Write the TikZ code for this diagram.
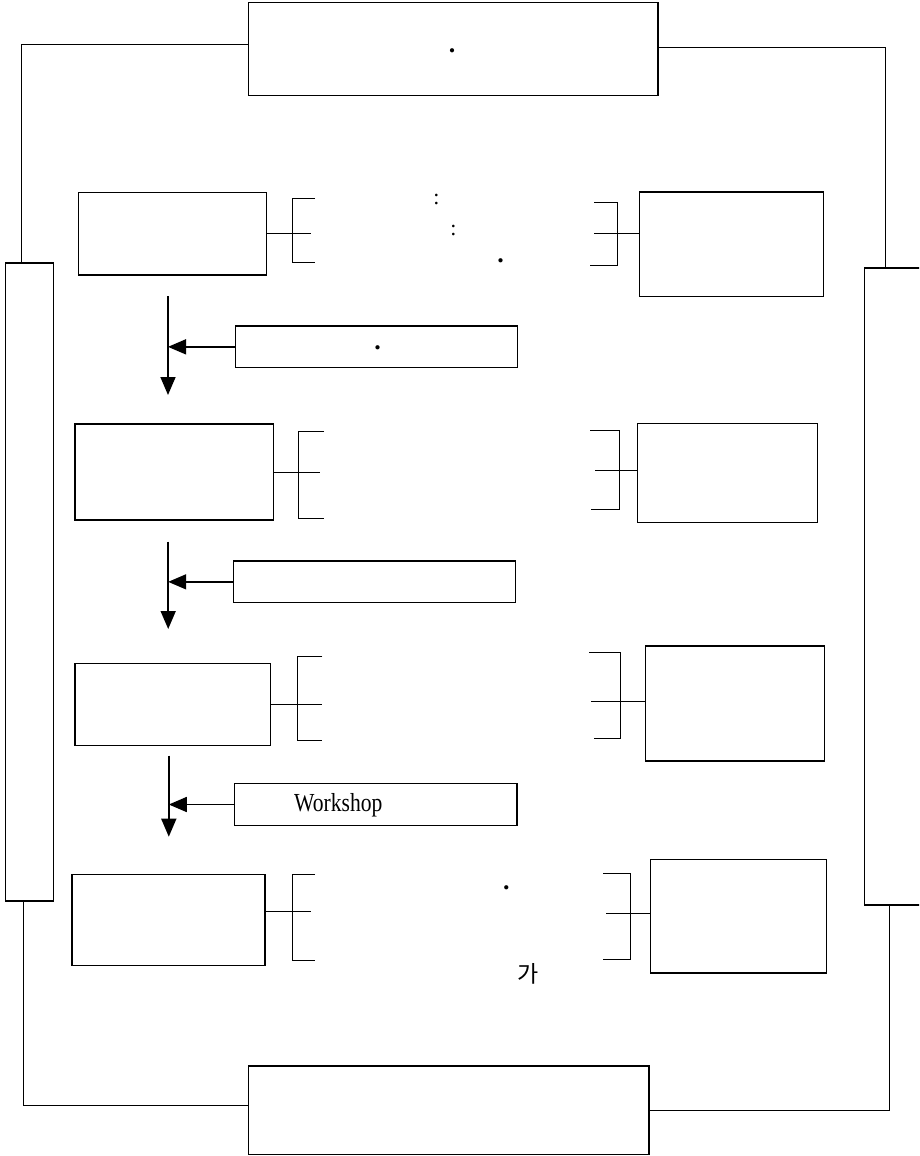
\documentclass[tikz,border=0pt]{standalone}
\usepackage{fontspec}
\setmainfont{Liberation Serif}
\newfontfamily\kofont{Noto Sans CJK KR}
\usetikzlibrary{arrows.meta,positioning,calc}

\begin{document}
\begin{tikzpicture}[x=1pt,y=-1pt,
  blk/.style={draw, line width=1.2pt, inner sep=0pt},
  brk/.style={line width=0.9pt},
  link/.style={line width=0.9pt},
  flow/.style={line width=1.6pt, -{Triangle[length=18pt,width=15pt]}},
  punct/.style={inner sep=0pt, font=\fontsize{22}{24}\selectfont},
  stop/.style={inner sep=0pt, font=\fontsize{26}{28}\selectfont\bfseries}]
  \clip (0,0) rectangle (919,1156);

  % outer frame
  \node[blk, minimum width=409.5pt, minimum height=93.2pt] (plan) at (453.25,49.1) {};
  \node[blk, minimum width=400.5pt, minimum height=88.5pt] (review) at (448.75,1110.25) {};
  \node[blk, minimum width=48pt, minimum height=638pt] (leftbar) at (29.3,582) {};
  \node[blk, minimum width=85.5pt, minimum height=637pt] (rightbar) at (907.25,586.5) {};

  \draw[link] ([yshift=4.8pt]plan.west) -| ([xshift=-7.6pt]leftbar.north);
  \draw[link] ([yshift=1.4pt]plan.east) -| ([xshift=-22.25pt]rightbar.north);
  \draw[link] ([xshift=-5.9pt]leftbar.south) |- ([yshift=5pt]review.west);
  \draw[link] (review.east) -| ([xshift=-17.45pt]rightbar.south);

  % stages
  \node[blk, minimum width=188pt, minimum height=82.5pt] (l1) at (172.5,233.75) {};
  \node[blk, minimum width=184pt, minimum height=104.7pt] (r1) at (731.5,244.35) {};
  \node[blk, minimum width=198.5pt, minimum height=96pt] (l2) at (174.25,472) {};
  \node[blk, minimum width=180pt, minimum height=99.2pt] (r2) at (727.7,472.9) {};
  \node[blk, minimum width=195.8pt, minimum height=82pt] (l3) at (172.9,704.3) {};
  \node[blk, minimum width=179.3pt, minimum height=115pt] (r3) at (735,703.5) {};
  \node[blk, minimum width=193pt, minimum height=90.6pt] (l4) at (168.5,920) {};
  \node[blk, minimum width=175.9pt, minimum height=113.7pt] (r4) at (738.5,916.2) {};

  % inputs
  \node[blk, minimum width=282.2pt, minimum height=41.7pt] (m1) at (376.6,346.85) {};
  \node[blk, minimum width=282pt, minimum height=41.7pt] (m2) at (374.3,581.85) {};
  \node[blk, minimum width=282.6pt, minimum height=42pt] (m3) at (375.7,804.5) {};

  % brackets
  \draw[brk] (l1.east) -- ++(43.5,0);
  \draw[brk] (315,198.3) -- (292.3,198.3) -- (292.3,262.3) -- (315,262.3);
  \draw[brk] (594,233.7) -- (r1.west |- 594,233.7);
  \draw[brk] (594,202) -- (617.3,202) -- (617.3,265.3) -- (590,265.3);

  \draw[brk] (l2.east) -- ++(45.5,0);
  \draw[brk] (324,431.7) -- (298.4,431.7) -- (298.4,518.3) -- (324,518.3);
  \draw[brk] (595,470) -- (r2.west |- 595,470);
  \draw[brk] (590,430.5) -- (619.7,430.5) -- (619.7,509.3) -- (591,509.3);

  \draw[brk] (l3.east) -- ++(51,0);
  \draw[brk] (322.4,656) -- (297.8,656) -- (297.8,740.3) -- (322.4,740.3);
  \draw[brk] (591.4,701.7) -- (r3.west |- 591.4,701.7);
  \draw[brk] (589,652.3) -- (620.7,652.3) -- (620.7,738.3) -- (593.8,738.3);

  \draw[brk] ([yshift=8.7pt]l4.east) -- ++(45,0);
  \draw[brk] (315,874.3) -- (292.7,874.3) -- (292.7,960) -- (315,960);
  \draw[brk] (606,913) -- (r4.west |- 606,913);
  \draw[brk] (603.3,873.3) -- (630.7,873.3) -- (630.7,959) -- (602.7,959);

  % flow arrows
  \coordinate (a1top) at (168,296);
  \coordinate (a1end) at (168,395);
  \coordinate (a2top) at (168.2,541.7);
  \coordinate (a2end) at (168.2,629);
  \coordinate (a3top) at (168.8,755.7);
  \coordinate (a3end) at (168.8,836.7);
  \draw[flow] (a1top) -- (a1end);
  \draw[flow] (a2top) -- (a2end);
  \draw[flow] (a3top) -- (a3end);
  \draw[flow] (m1.west) -- (m1.west -| a1top);
  \draw[flow] (m2.west) -- (m2.west -| a2top);
  \draw[flow] (m3.west) -- (m3.west -| a3top);

  % texts
  \node[stop] (pdot) at (452,51) {.};
  \node[punct] (c1) at (436.3,199.3) {:};
  \node[punct] (c2) at (453.3,230) {:};
  \node[stop] (d1) at (500.7,260.7) {.};
  \node[stop] (mdot) at (377.7,347.7) {.};
  \node[inner sep=0pt, anchor=base, xscale=0.83,
        font=\fontsize{26}{28}\selectfont] (ws) at (338.3,811.5) {Workshop};
  \node[stop] (d4) at (506.3,887.7) {.};
  \node[inner sep=0pt, font=\kofont\fontsize{23}{26}\selectfont] (ga) at (528,973.7) {가};
\end{tikzpicture}
\end{document}
